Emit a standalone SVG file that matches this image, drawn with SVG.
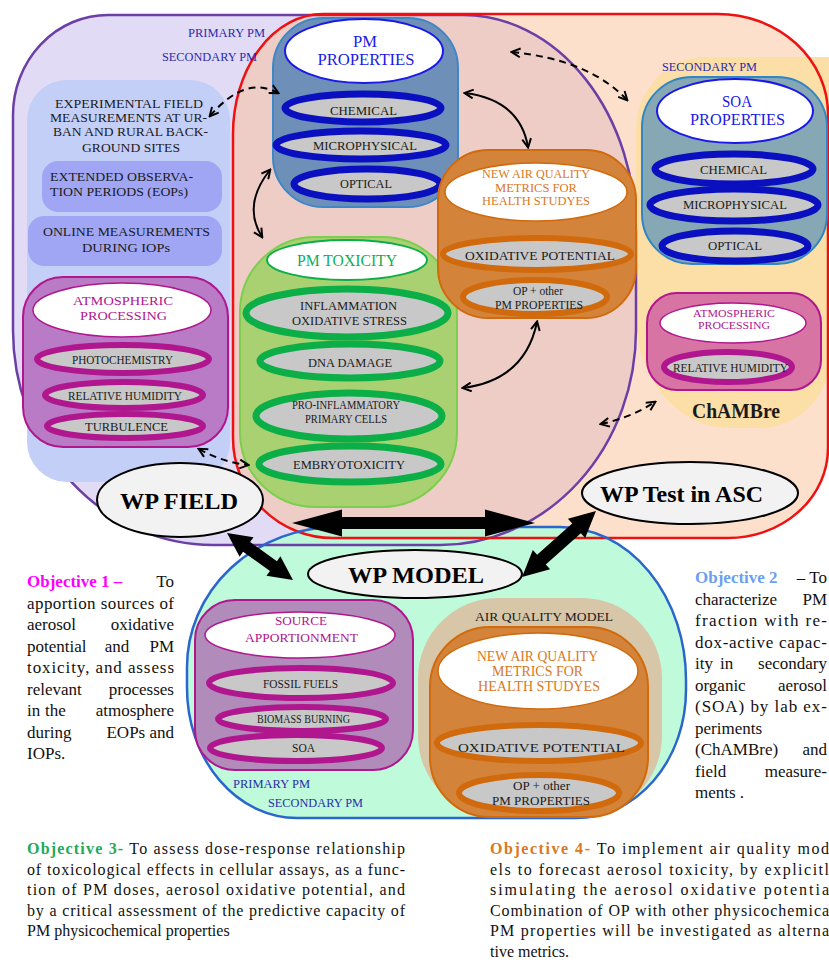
<svg xmlns="http://www.w3.org/2000/svg" width="829" height="965" viewBox="0 0 829 965">
<defs>
<style>
text{font-family:"Liberation Serif","Times New Roman",serif}
.lb{font-size:13px;fill:#1a1a1a;text-anchor:middle}
.ob{font-size:17px;fill:#111}
.oc{font-size:16px;fill:#111}
.it{fill:#c8c8c8}
.sb{stroke:#0a0fc0;stroke-width:7}
.sg{stroke:#0cae48;stroke-width:7}
.sm{stroke:#b0168e;stroke-width:6}
.so{stroke:#d06a0c;stroke-width:6}
.ttl{fill:#fff}
.wp{fill:#f2f2f2;stroke:#000;stroke-width:2}
.wpt{font-size:24px;font-weight:bold;fill:#000;text-anchor:middle}
.pmlab{font-size:12px;fill:#2a2aae;text-anchor:middle}
.thin{fill:none;stroke:#000;stroke-width:2;marker-start:url(#ah);marker-end:url(#ah)}
.dash{fill:none;stroke:#000;stroke-width:2;stroke-dasharray:7 5;marker-start:url(#ah);marker-end:url(#ah)}
.big{fill:#000}
</style>
<marker id="ah" viewBox="0 0 10 10" refX="8.5" refY="5" markerWidth="11" markerHeight="11" orient="auto-start-reverse" markerUnits="userSpaceOnUse"><path d="M1,1 L9,5 L1,9" fill="none" stroke="#000" stroke-width="1.8"/></marker>
<path id="redP" d="M233,134 A90,120 0 0 1 323,14 L718,14 A110,100 0 0 1 828,114 L828,448 A100,90 0 0 1 728,538 L333,538 A100,100 0 0 1 233,438 Z"/>
<path id="purP" d="M13,115 A95,100 0 0 1 108,15 L463,15 A173,218 0 0 1 636,233 L636,330 A196,215 0 0 1 440,545 L213,545 A200,215 0 0 1 13,330 Z"/>
<path id="grnP" d="M187,667 A150,140 0 0 1 337,527 L560,527 A126,153 0 0 1 686,680 L686,690 A110,128 0 0 1 576,818 L297,818 A110,130 0 0 1 187,688 Z"/>
<clipPath id="redClip"><use href="#redP"/></clipPath>
</defs>

<g id="regions">
<use href="#redP" fill="#fde0cb"/>
<path d="M636,130 A70,73 0 0 1 706,57 L829,57 L829,360 A70,68 0 0 1 759,428 L730,428 A94,110 0 0 1 636,318 Z" fill="#fcdfa6"/>
<use href="#purP" fill="#e2dbf5"/>
<use href="#purP" fill="#efcdc7" clip-path="url(#redClip)"/>
<use href="#grnP" fill="#b6fbd6" fill-opacity="0.88"/>
<use href="#purP" fill="none" stroke="#6b3fa6" stroke-width="2.5"/>
<use href="#redP" fill="none" stroke="#ee1111" stroke-width="2.5"/>
<use href="#grnP" fill="none" stroke="#2a66cc" stroke-width="2.5"/>
<text class="pmlab" x="226.5" y="37" textLength="77" lengthAdjust="spacingAndGlyphs">PRIMARY PM</text>
<text class="pmlab" x="209.5" y="61" textLength="95" lengthAdjust="spacingAndGlyphs">SECONDARY PM</text>
<text class="pmlab" x="709.5" y="71" textLength="95" lengthAdjust="spacingAndGlyphs">SECONDARY PM</text>
<text class="pmlab" x="271.5" y="788" fill="#2626c8" textLength="77" lengthAdjust="spacingAndGlyphs">PRIMARY PM</text>
<text class="pmlab" x="315.5" y="807" fill="#2626c8" textLength="95" lengthAdjust="spacingAndGlyphs">SECONDARY PM</text>
<text x="736" y="418" font-size="20" font-weight="bold" fill="#1a1a1a" text-anchor="middle" textLength="88" lengthAdjust="spacingAndGlyphs">ChAMBre</text>
</g>

<g id="field-panel">
<rect x="27" y="80" width="203" height="402" rx="40" fill="#c4cff8"/>
<text class="lb" x="129" y="108" font-size="14" textLength="148" lengthAdjust="spacingAndGlyphs">EXPERIMENTAL FIELD</text>
<text class="lb" x="128.5" y="122" font-size="14" textLength="157" lengthAdjust="spacingAndGlyphs">MEASUREMENTS AT UR-</text>
<text class="lb" x="130.5" y="136" font-size="14" textLength="155" lengthAdjust="spacingAndGlyphs">BAN AND RURAL BACK-</text>
<text class="lb" x="131" y="152" font-size="14" textLength="98" lengthAdjust="spacingAndGlyphs">GROUND SITES</text>
</g>
<g id="eops">
<rect x="42" y="161" width="180" height="51" rx="16" fill="#a0a6f4"/>
<text class="lb" x="50" y="181" font-size="14" style="text-anchor:start" textLength="143" lengthAdjust="spacingAndGlyphs">EXTENDED OBSERVA-</text>
<text class="lb" x="50" y="196" font-size="14" style="text-anchor:start" textLength="138" lengthAdjust="spacingAndGlyphs">TION PERIODS (EOPs)</text>
</g>
<g id="iops">
<rect x="28" y="216" width="194" height="50" rx="16" fill="#a0a6f4"/>
<text class="lb" x="126.5" y="236" font-size="14" textLength="167" lengthAdjust="spacingAndGlyphs">ONLINE MEASUREMENTS</text>
<text class="lb" x="126" y="252" font-size="14" textLength="88" lengthAdjust="spacingAndGlyphs">DURING IOPs</text>
</g>

<g id="atm-field">
<rect x="23" y="277" width="205" height="170" rx="40" fill="#b97ac6" stroke="#b0168e" stroke-width="2"/>
<ellipse class="ttl" cx="122" cy="310" rx="89" ry="27" stroke="#b0168e" stroke-width="1.5"/>
<text class="lb" x="123" y="305" font-size="14" style="fill:#b0168e" textLength="100" lengthAdjust="spacingAndGlyphs">ATMOSPHERIC</text>
<text class="lb" x="123.5" y="320" font-size="14" style="fill:#b0168e" textLength="87" lengthAdjust="spacingAndGlyphs">PROCESSING</text>
<ellipse class="it sm" cx="123" cy="359" rx="86" ry="14"/>
<ellipse class="it sm" cx="124" cy="395" rx="79" ry="13"/>
<ellipse class="it sm" cx="125" cy="426" rx="78" ry="12"/>
<text class="lb" x="122.5" y="364" font-size="12" textLength="101" lengthAdjust="spacingAndGlyphs">PHOTOCHEMISTRY</text>
<text class="lb" x="125" y="400" font-size="12" textLength="114" lengthAdjust="spacingAndGlyphs">RELATIVE HUMIDITY</text>
<text class="lb" x="126.5" y="431" font-size="12" textLength="83" lengthAdjust="spacingAndGlyphs">TURBULENCE</text>
</g>

<g id="pm-properties">
<rect x="273" y="18" width="185" height="189" rx="50" fill="#6e90b8" stroke="#3d86c8" stroke-width="2"/>
<ellipse class="ttl" cx="364" cy="51" rx="79" ry="32" stroke="#1a1ae8" stroke-width="2"/>
<text x="365" y="47" font-size="16" fill="#1a1ae8" text-anchor="middle" textLength="24" lengthAdjust="spacingAndGlyphs">PM</text>
<text x="366" y="65" font-size="16" fill="#1a1ae8" text-anchor="middle" textLength="97" lengthAdjust="spacingAndGlyphs">PROPERTIES</text>
<ellipse class="it sb" cx="363" cy="108" rx="78" ry="14"/>
<ellipse class="it sb" cx="361" cy="145" rx="85" ry="14"/>
<ellipse class="it sb" cx="367" cy="184" rx="73" ry="15"/>
<text class="lb" x="363.5" y="115" textLength="67" lengthAdjust="spacingAndGlyphs">CHEMICAL</text>
<text class="lb" x="365" y="150" textLength="104" lengthAdjust="spacingAndGlyphs">MICROPHYSICAL</text>
<text class="lb" x="366" y="188" textLength="52" lengthAdjust="spacingAndGlyphs">OPTICAL</text>
</g>

<g id="pm-toxicity">
<rect x="240" y="237" width="217" height="270" rx="75" fill="#a9d172" stroke="#7ccf4e" stroke-width="2"/>
<ellipse class="ttl" cx="347" cy="260" rx="80" ry="20" stroke="#0cae48" stroke-width="2"/>
<text x="347" y="266" font-size="17" fill="#0fae58" text-anchor="middle" textLength="100" lengthAdjust="spacingAndGlyphs">PM TOXICITY</text>
<ellipse class="it sg" cx="347" cy="313" rx="101" ry="24"/>
<ellipse class="it sg" cx="350" cy="361" rx="90" ry="17"/>
<ellipse class="it sg" cx="349" cy="416" rx="93" ry="23"/>
<ellipse class="it sg" cx="350" cy="464" rx="91" ry="18"/>
<text class="lb" x="348.5" y="310" textLength="97" lengthAdjust="spacingAndGlyphs">INFLAMMATION</text>
<text class="lb" x="349.5" y="325" textLength="115" lengthAdjust="spacingAndGlyphs">OXIDATIVE STRESS</text>
<text class="lb" x="350" y="367" textLength="84" lengthAdjust="spacingAndGlyphs">DNA DAMAGE</text>
<text class="lb" x="346" y="409" font-size="9.5" textLength="108" lengthAdjust="spacingAndGlyphs">PRO-INFLAMMATORY</text>
<text class="lb" x="346" y="423" font-size="9.5" textLength="82" lengthAdjust="spacingAndGlyphs">PRIMARY CELLS</text>
<text class="lb" x="349" y="469" textLength="112" lengthAdjust="spacingAndGlyphs">EMBRYOTOXICITY</text>
</g>

<g id="metrics-field">
<rect x="438" y="150" width="198" height="168" rx="50" fill="#d4843a" stroke="#d06a0c" stroke-width="2"/>
<ellipse class="ttl" cx="536" cy="192" rx="91" ry="29" stroke="#d06a0c" stroke-width="1.5"/>
<text x="536" y="178" font-size="12" fill="#d9781e" text-anchor="middle" textLength="108" lengthAdjust="spacingAndGlyphs">NEW AIR QUALITY</text>
<text x="536" y="191.5" font-size="12" fill="#d9781e" text-anchor="middle" textLength="82" lengthAdjust="spacingAndGlyphs">METRICS FOR</text>
<text x="536" y="205" font-size="12" fill="#d9781e" text-anchor="middle" textLength="108" lengthAdjust="spacingAndGlyphs">HEALTH STUDYES</text>
<ellipse class="it so" cx="537" cy="254" rx="94" ry="16"/>
<ellipse class="it so" cx="535" cy="297" rx="72" ry="17"/>
<text class="lb" x="540" y="260" font-size="14" textLength="150" lengthAdjust="spacingAndGlyphs">OXIDATIVE POTENTIAL</text>
<text class="lb" x="538" y="295" font-size="12" textLength="50" lengthAdjust="spacingAndGlyphs">OP + other</text>
<text class="lb" x="539" y="309" font-size="12" textLength="88" lengthAdjust="spacingAndGlyphs">PM PROPERTIES</text>
</g>

<g id="soa-properties">
<rect x="642" y="77" width="185" height="187" rx="50" fill="#86a8b4" stroke="#2f86c6" stroke-width="2"/>
<ellipse class="ttl" cx="735" cy="111" rx="78" ry="32" stroke="#1a1ae8" stroke-width="2"/>
<text x="737" y="107" font-size="16" fill="#1a1ae8" text-anchor="middle" textLength="30" lengthAdjust="spacingAndGlyphs">SOA</text>
<text x="737.5" y="125" font-size="16" fill="#1a1ae8" text-anchor="middle" textLength="95" lengthAdjust="spacingAndGlyphs">PROPERTIES</text>
<ellipse class="it sb" cx="734" cy="169" rx="79" ry="15"/>
<ellipse class="it sb" cx="734" cy="205" rx="84" ry="16"/>
<ellipse class="it sb" cx="735" cy="246" rx="73" ry="15"/>
<text class="lb" x="733.5" y="174" textLength="67" lengthAdjust="spacingAndGlyphs">CHEMICAL</text>
<text class="lb" x="735" y="209" textLength="104" lengthAdjust="spacingAndGlyphs">MICROPHYSICAL</text>
<text class="lb" x="735" y="250" textLength="54" lengthAdjust="spacingAndGlyphs">OPTICAL</text>
</g>

<g id="atm-chambre">
<rect x="647" y="293" width="174" height="97" rx="30" fill="#d874a4" stroke="#b0168e" stroke-width="2"/>
<ellipse class="ttl" cx="733" cy="323" rx="73" ry="20" stroke="#b0168e" stroke-width="1.5"/>
<text x="734" y="317" font-size="10" fill="#b0168e" text-anchor="middle" textLength="82" lengthAdjust="spacingAndGlyphs">ATMOSPHERIC</text>
<text x="734" y="329" font-size="10" fill="#b0168e" text-anchor="middle" textLength="72" lengthAdjust="spacingAndGlyphs">PROCESSING</text>
<ellipse class="it sm" cx="728" cy="367" rx="64" ry="15"/>
<text class="lb" x="730.5" y="372" font-size="11" textLength="115" lengthAdjust="spacingAndGlyphs">RELATIVE HUMIDITY</text>
</g>

<g id="source-apportionment">
<rect x="195" y="600" width="218" height="170" rx="40" fill="#b18bba" stroke="#b0168e" stroke-width="2"/>
<ellipse class="ttl" cx="300" cy="635" rx="95" ry="23" stroke="#b0168e" stroke-width="1.5"/>
<text x="301" y="625" font-size="13" fill="#b0168e" text-anchor="middle" textLength="52" lengthAdjust="spacingAndGlyphs">SOURCE</text>
<text x="301.5" y="642" font-size="13" fill="#b0168e" text-anchor="middle" textLength="113" lengthAdjust="spacingAndGlyphs">APPORTIONMENT</text>
<ellipse class="it sm" cx="301" cy="683" rx="92" ry="15"/>
<ellipse class="it sm" cx="302" cy="719" rx="84" ry="12"/>
<ellipse class="it sm" cx="296" cy="748" rx="86" ry="13"/>
<text class="lb" x="300.5" y="688" font-size="12" textLength="75" lengthAdjust="spacingAndGlyphs">FOSSIL FUELS</text>
<text class="lb" x="303.5" y="723" font-size="10" textLength="93" lengthAdjust="spacingAndGlyphs">BIOMASS BURNING</text>
<text class="lb" x="303.5" y="752" font-size="12" textLength="23" lengthAdjust="spacingAndGlyphs">SOA</text>
</g>

<g id="air-quality-model">
<rect x="418" y="598" width="244" height="218" rx="80" fill="#d8c6a8"/>
<text class="lb" x="544" y="621" font-size="14" textLength="138" lengthAdjust="spacingAndGlyphs">AIR QUALITY MODEL</text>
<rect x="430" y="627" width="218" height="190" rx="60" fill="#d4843a" stroke="#d06a0c" stroke-width="2"/>
<ellipse class="ttl" cx="538" cy="671" rx="100" ry="38" stroke="#d06a0c" stroke-width="1.5"/>
<text x="537.5" y="661" font-size="14" fill="#d9781e" text-anchor="middle" textLength="121" lengthAdjust="spacingAndGlyphs">NEW AIR QUALITY</text>
<text x="537.5" y="676" font-size="14" fill="#d9781e" text-anchor="middle" textLength="91" lengthAdjust="spacingAndGlyphs">METRICS FOR</text>
<text x="539" y="691" font-size="14" fill="#d9781e" text-anchor="middle" textLength="122" lengthAdjust="spacingAndGlyphs">HEALTH STUDYES</text>
<ellipse class="it so" cx="539" cy="743" rx="102" ry="18"/>
<ellipse class="it so" cx="539" cy="793" rx="80" ry="18"/>
<text class="lb" x="541.5" y="752" font-size="16" textLength="167" lengthAdjust="spacingAndGlyphs">OXIDATIVE POTENTIAL</text>
<text class="lb" x="541.5" y="790" font-size="13" textLength="57" lengthAdjust="spacingAndGlyphs">OP + other</text>
<text class="lb" x="541" y="805" font-size="13" textLength="98" lengthAdjust="spacingAndGlyphs">PM PROPERTIES</text>
</g>

<g id="wp-field">
<ellipse class="wp" cx="180" cy="500" rx="83" ry="37"/>
<text class="wpt" x="179" y="509" textLength="118" lengthAdjust="spacingAndGlyphs">WP  FIELD</text>
</g>
<g id="wp-test">
<ellipse class="wp" cx="690" cy="493" rx="108" ry="31"/>
<text class="wpt" x="681.5" y="502" textLength="163" lengthAdjust="spacingAndGlyphs">WP  Test in ASC</text>
</g>
<g id="wp-model">
<ellipse class="wp" cx="415" cy="574" rx="107" ry="24"/>
<text class="wpt" x="416" y="583" textLength="136" lengthAdjust="spacingAndGlyphs">WP  MODEL</text>
</g>

<g id="connectors">
<path class="thin" d="M270,170 Q242,205 262,237"/>
<path class="thin" d="M465,93 Q520,100 528,147"/>
<path class="thin" d="M537,322 Q525,380 463,388"/>
<path class="dash" d="M210,116 Q245,75 278,93"/>
<path class="dash" d="M512,52 Q590,60 627,100"/>
<path class="dash" d="M199,449 Q222,462 248,465"/>
<path class="dash" d="M601,424 Q630,418 655,402"/>
<polygon class="big" points="292,523 342,509.5 342,517 485,517 485,509.5 535,523 485,536.5 485,529 342,529 342,536.5"/>
<polygon class="big" transform="translate(260,556.5) rotate(35.5)" points="-40.5,0 -16.5,-12 -16.5,-6 16.5,-6 16.5,-12 40.5,0 16.5,12 16.5,6 -16.5,6 -16.5,12"/>
<polygon class="big" transform="translate(559,544) rotate(138.3)" points="-49.5,0 -23.5,-13 -23.5,-6.5 23.5,-6.5 23.5,-13 49.5,0 23.5,13 23.5,6.5 -23.5,6.5 -23.5,13"/>
</g>

<g id="objective-1">
<text class="ob" x="27" y="587" font-weight="bold" style="fill:#ff00ff">Objective 1 –</text>
<text class="ob" x="174" y="587" text-anchor="end">To</text>
<text class="ob" x="27" y="608.5" textLength="147" lengthAdjust="spacing">apportion sources of</text>
<text class="ob" x="27" y="630">aerosol</text>
<text class="ob" x="174" y="630" text-anchor="end">oxidative</text>
<text class="ob" x="27" y="651.5">potential</text>
<text class="ob" x="117" y="651.5" text-anchor="middle">and</text>
<text class="ob" x="174" y="651.5" text-anchor="end">PM</text>
<text class="ob" x="27" y="673" textLength="147" lengthAdjust="spacing">toxicity, and assess</text>
<text class="ob" x="27" y="694.5">relevant</text>
<text class="ob" x="174" y="694.5" text-anchor="end">processes</text>
<text class="ob" x="27" y="716">in</text>
<text class="ob" x="45" y="716">the</text>
<text class="ob" x="174" y="716" text-anchor="end">atmosphere</text>
<text class="ob" x="27" y="737.5">during</text>
<text class="ob" x="174" y="737.5" text-anchor="end">EOPs and</text>
<text class="ob" x="27" y="759">IOPs.</text>
</g>

<g id="objective-2">
<text class="ob" x="695" y="583" font-weight="bold" style="fill:#6a9ff0">Objective 2</text>
<text class="ob" x="827" y="583" text-anchor="end">– To</text>
<text class="ob" x="695" y="604.5">characterize</text>
<text class="ob" x="827" y="604.5" text-anchor="end">PM</text>
<text class="ob" x="695" y="626" textLength="132" lengthAdjust="spacing">fraction with re-</text>
<text class="ob" x="695" y="647.5" textLength="132" lengthAdjust="spacing">dox-active capac-</text>
<text class="ob" x="695" y="669">ity</text>
<text class="ob" x="720" y="669">in</text>
<text class="ob" x="827" y="669" text-anchor="end">secondary</text>
<text class="ob" x="695" y="690.5">organic</text>
<text class="ob" x="827" y="690.5" text-anchor="end">aerosol</text>
<text class="ob" x="695" y="712" textLength="132" lengthAdjust="spacing">(SOA) by lab ex-</text>
<text class="ob" x="695" y="733.5">periments</text>
<text class="ob" x="695" y="755">(ChAMBre)</text>
<text class="ob" x="827" y="755" text-anchor="end">and</text>
<text class="ob" x="695" y="776.5">field</text>
<text class="ob" x="827" y="776.5" text-anchor="end">measure-</text>
<text class="ob" x="695" y="798">ments .</text>
</g>

<g id="objective-3">
<text class="oc" x="27" y="854" textLength="378" lengthAdjust="spacing"><tspan font-weight="bold" style="fill:#22aa55">Objective 3-</tspan> To assess dose-response relationship</text>
<text class="oc" x="27" y="874.5" textLength="378" lengthAdjust="spacing">of toxicological effects in cellular assays, as a func-</text>
<text class="oc" x="27" y="895" textLength="378" lengthAdjust="spacing">tion of PM doses, aerosol oxidative potential, and</text>
<text class="oc" x="27" y="915.5" textLength="378" lengthAdjust="spacing">by a critical assessment of the predictive capacity of</text>
<text class="oc" x="27" y="936">PM physicochemical properties</text>
</g>

<g id="objective-4">
<text class="oc" x="490" y="854" textLength="339" lengthAdjust="spacing"><tspan font-weight="bold" style="fill:#d9781e">Objective 4-</tspan> To implement air quality mod</text>
<text class="oc" x="490" y="874.5" textLength="339" lengthAdjust="spacing">els to forecast aerosol toxicity, by explicitl</text>
<text class="oc" x="490" y="895" textLength="339" lengthAdjust="spacing">simulating the aerosol oxidative potentia</text>
<text class="oc" x="490" y="915.5" textLength="339" lengthAdjust="spacing">Combination of OP with other physicochemica</text>
<text class="oc" x="490" y="936" textLength="339" lengthAdjust="spacing">PM properties will be investigated as alterna</text>
<text class="oc" x="490" y="956.5">tive metrics.</text>
</g>
</svg>
